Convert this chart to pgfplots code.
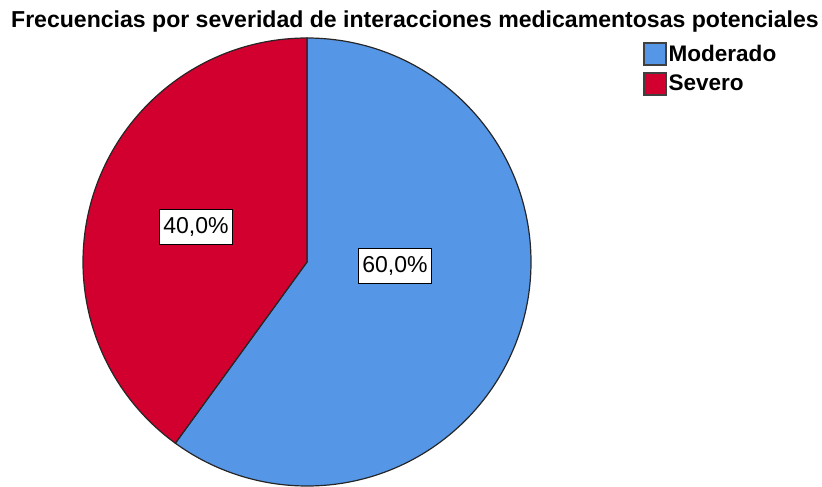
\documentclass[border=0pt]{standalone}
\usepackage{fontspec}
\setmainfont{Liberation Sans}
\usepackage{pgfplots}
\usepackage{pgfplotstable}
\pgfplotsset{compat=1.18}
\definecolor{moderado}{RGB}{85,150,230}
\definecolor{severo}{RGB}{210,0,46}
\newcommand\bigf{\fontsize{17.25}{20}\selectfont}
\newcommand\legf{\fontsize{16.9}{20}\selectfont\bfseries}
\newcommand\titf{\fontsize{17.3}{20}\selectfont}
\pgfplotstableread{
label value
Moderado 60
Severo 40
}\piedata
\begin{document}
\begin{tikzpicture}
\pgfplotstablegetelem{0}{value}\of\piedata\let\vA\pgfplotsretval
\pgfplotstablegetelem{1}{value}\of\piedata\let\vB\pgfplotsretval
\pgfmathsetmacro\total{\vA+\vB}
\pgfmathsetmacro\fA{\vA/\total}
\pgfmathsetmacro\fB{\vB/\total}
\pgfmathsetmacro\angA{90-360*\fA}
\pgfmathsetmacro\angB{90+360*\fB}
\pgfmathsetmacro\pA{100*\fA}
\pgfmathsetmacro\pB{100*\fB}
\begin{axis}[
  hide axis, scale only axis,
  x=0.75pt, y=0.75pt,
  xmin=0, xmax=822, ymin=-484, ymax=0,
  clip=false,
  legend cell align=left,
  legend style={at={(axis cs:643,-42)}, anchor=north west, draw=none, fill=none,
    font=\legf, inner sep=0pt, row sep=5pt,
    nodes={inner sep=1.5pt}},
  legend image code/.code={\draw[#1] (0pt,-8.25pt) rectangle (16.5pt,8.25pt);},
]
\path (axis cs:0,0) rectangle (axis cs:822,-484);
\fill[moderado, draw=black!85, line width=0.9pt]
  (axis cs:307,-262) -- (axis cs:307,-38) arc[start angle=90, end angle=\angA, radius=168pt] -- cycle;
\fill[severo, draw=black!85, line width=0.9pt]
  (axis cs:307,-262) -- (axis cs:307,-38) arc[start angle=90, end angle=\angB, radius=168pt] -- cycle;
\addlegendimage{fill=moderado, draw=black!75, line width=1pt}
\addlegendentry{Moderado}
\addlegendimage{fill=severo, draw=black!75, line width=1pt}
\addlegendentry{Severo}
\node[draw=black, fill=white, line width=0.8pt, inner xsep=2.6pt, minimum height=26pt, font=\bigf]
  at (axis cs:395,-266) {\pgfmathprintnumber[fixed, fixed zerofill, precision=1, use comma, assume math mode=true]{\pA}\%};
\node[draw=black, fill=white, line width=0.8pt, inner xsep=2.6pt, minimum height=26pt, font=\bigf]
  at (axis cs:196,-227) {\pgfmathprintnumber[fixed, fixed zerofill, precision=1, use comma, assume math mode=true]{\pB}\%};
\node[anchor=base, font=\titf\bfseries, inner sep=0pt] at (axis cs:415,-27.5)
  {Frecuencias por severidad de interacciones medicamentosas potenciales};
\end{axis}
\end{tikzpicture}
\end{document}
